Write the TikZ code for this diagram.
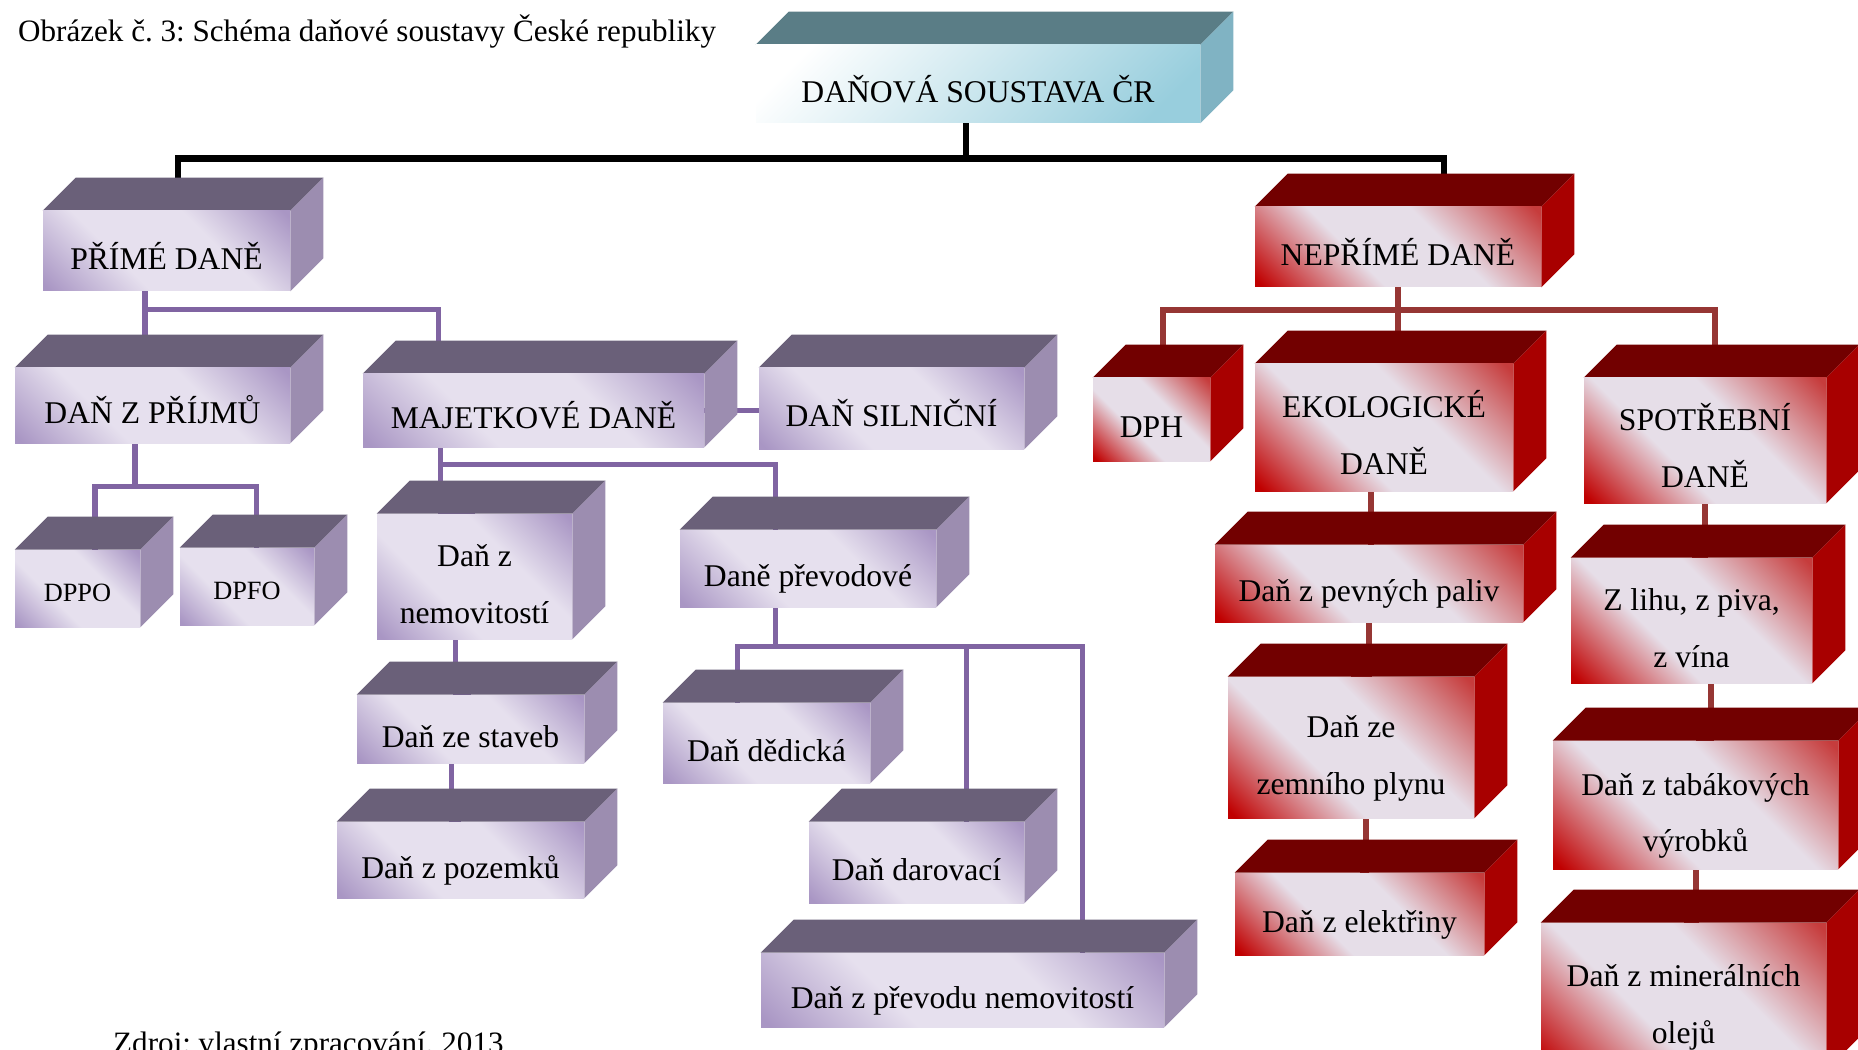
\documentclass[tikz,border=0pt]{standalone}
\usepackage{fontspec}
\setmainfont{Liberation Serif}
\usetikzlibrary{positioning,backgrounds}
\frenchspacing

\definecolor{ptop}{HTML}{6A6079}
\definecolor{pside}{HTML}{9C8DB0}
\definecolor{plight}{HTML}{E6E0EE}
\definecolor{pdark}{HTML}{A996C4}
\definecolor{linepurple}{HTML}{8064A2}
\definecolor{rtop}{HTML}{720000}
\definecolor{rside}{HTML}{A80000}
\definecolor{rlight}{HTML}{E6DEE8}
\definecolor{rdark}{HTML}{C00000}
\definecolor{rdarktop}{HTML}{C63C3C}
\definecolor{linered}{HTML}{963634}
\definecolor{ttop}{HTML}{5A7D86}
\definecolor{tside}{HTML}{80B3C3}
\definecolor{tblue}{HTML}{98CEDD}

\pgfdeclareverticalshading{purplefront}{100bp}{color(0bp)=(pdark); color(16bp)=(pdark); color(38bp)=(plight); color(62bp)=(plight); color(84bp)=(pdark); color(100bp)=(pdark)}
\pgfdeclareverticalshading{redfront}{100bp}{color(0bp)=(rdark); color(16bp)=(rdark); color(40bp)=(rlight); color(60bp)=(rlight); color(84bp)=(rdarktop); color(100bp)=(rdarktop)}
\pgfdeclareverticalshading{bluefront}{100bp}{color(0bp)=(tblue); color(22bp)=(tblue); color(78bp)=(white); color(100bp)=(white)}

\newcommand{\pix}{0.02cm}

\tikzset{
  box/.style={rectangle, inner sep=0pt, shade, shading angle=-45, align=center,
    font=\fontsize{18}{32}\selectfont, text height=21pt, text depth=0pt},
  pbox/.style={box, shading=purplefront},
  rbox/.style={box, shading=redfront},
  twolines/.style={text height=53pt},
  size/.style 2 args={minimum width=#1*\pix, minimum height=#2*\pix},
  plink/.style={draw=linepurple, line width=2.85pt},
  rlink/.style={draw=linered, line width=3.4pt},
  trunk/.style={draw=black, line width=3.7pt},
}

\begin{document}
\begin{tikzpicture}[x=\pix, y=-\pix]
\useasboundingbox (0,0) rectangle (1858,1050);

% popisky obrazku
\node[anchor=base west, font=\fontsize{17.7}{20}\selectfont] (caption) at (12,42) {Obrázek č. 3: Schéma daňové soustavy České republiky};
\node[anchor=base west, font=\fontsize{17.7}{20}\selectfont] (source) at (107,1053) {Zdroj: vlastní zpracování, 2013};

% koren
\node[box, shading=bluefront, shading angle=45, size={444}{78}] (title) at (978,84) {DAŇOVÁ SOUSTAVA ČR};

% prime dane
\node[pbox, size={247}{80}] (prime) at (166.5,251) {PŘÍMÉ DANĚ};
\node[pbox, size={275}{75}] (prijmy) at (152.5,405.5) {DAŇ Z PŘÍJMŮ};
\node[pbox, size={341}{73}] (majet) at (533.5,410.5) {MAJETKOVÉ DANĚ};
\node[pbox, size={265}{81}] (silnic) at (891.5,408.5) {DAŇ SILNIČNÍ};
\node[pbox, size={125}{77}, font=\fontsize{15}{20}\selectfont, text height=15pt] (dppo) at (77.5,588.5) {DPPO};
\node[pbox, size={134}{77}, font=\fontsize{15}{20}\selectfont, text height=15pt] (dpfo) at (247,586.5) {DPFO};
\node[pbox, twolines, size={195}{125}] (nemov) at (474.5,576.5) {Daň z\\nemovitostí};
\node[pbox, size={256}{77}] (prevod) at (808,568.5) {Daně převodové};
\node[pbox, size={227}{68}] (staveb) at (470.5,729) {Daň ze staveb};
\node[pbox, size={247}{76}] (pozem) at (460.5,860) {Daň z pozemků};
\node[pbox, size={207}{80}] (dedic) at (766.5,743) {Daň dědická};
\node[pbox, size={215}{81}] (darov) at (916.5,862.5) {Daň darovací};
\node[pbox, size={403}{74}] (prevnem) at (962.5,990) {Daň z převodu nemovitostí};

% neprime dane
\node[rbox, size={286}{80}] (neprime) at (1398,247) {NEPŘÍMÉ DANĚ};
\node[rbox, size={117}{83}] (dph) at (1151.5,419.5) {DPH};
\node[rbox, twolines, size={258}{127}] (ekolog) at (1384,427.5) {EKOLOGICKÉ\\DANĚ};
\node[rbox, twolines, size={242}{125}] (spotreb) at (1705,440.5) {SPOTŘEBNÍ\\DANĚ};
\node[rbox, size={308}{77}] (paliv) at (1369,583.5) {Daň z pevných paliv};
\node[rbox, twolines, size={246}{141}] (plyn) at (1351,747.5) {Daň ze\\zemního plynu};
\node[rbox, size={249}{82}] (elektr) at (1359.5,914) {Daň z elektřiny};
\node[rbox, twolines, size={241}{125}] (lihu) at (1691.5,620.5) {Z lihu, z piva,\\z vína};
\node[rbox, twolines, size={285}{128}] (tabak) at (1695.5,805) {Daň z tabákových\\výrobků};
\node[rbox, twolines, size={285}{147}] (mineral) at (1683.5,996.5) {Daň z minerálních\\olejů};

\begin{pgfonlayer}{background}
% spojnice
\draw[trunk] ([xshift=-12*\pix]title.south) -- ++(0,35) coordinate (busT);
\draw[trunk] ([xshift=11.5*\pix]prime.north) |- (busT) -| ([xshift=46*\pix]neprime.north);

\draw[plink] ([xshift=-21.5*\pix]prime.south) -- ++(0,18) -| ([xshift=-95.5*\pix]majet.north);
\draw[plink] ([xshift=-21.5*\pix]prime.south) |- (prijmy.north);
\draw[plink] ([xshift=-17.5*\pix]prijmy.south) -- ++(0,43) coordinate (busD);
\draw[plink] ([xshift=17.5*\pix]dppo.north) |- (busD) -| ([xshift=9*\pix]dpfo.north);
\draw[plink] ([xshift=-93.5*\pix]majet.south) |- (nemov.north);
\draw[plink] ([xshift=-93.5*\pix]majet.south) -- ++(0,17) -| ([xshift=-33*\pix]prevod.north);
\draw[plink] (majet.east) -- (majet.east -| silnic.west);
\draw[plink] ([xshift=-19.5*\pix]nemov.south) |- (staveb.north);
\draw[plink] ([xshift=-19.5*\pix]staveb.south) |- (pozem.north);
\draw[plink] ([xshift=-33*\pix]prevod.south) -- ++(0,39) coordinate (busP);
\draw[plink] ([xshift=-29.5*\pix]dedic.north) |- (busP) -| ([xshift=119.5*\pix]prevnem.north);
\draw[plink] (busP) -| ([xshift=49.5*\pix]darov.north);

\draw[rlink] (neprime.south) -- ++(0,23) coordinate (busR);
\draw[rlink] ([xshift=11.5*\pix]dph.north) |- (busR) -| ([xshift=10*\pix]spotreb.north);
\draw[rlink] (busR) -- ([xshift=14*\pix]ekolog.north);
\draw[rlink] ([xshift=-13*\pix]ekolog.south) |- (paliv.north);
\draw[rlink] (paliv.south) |- (plyn.north);
\draw[rlink] ([xshift=15*\pix]plyn.south) |- (elektr.north);
\draw[rlink] (spotreb.south) |- (lihu.north);
\draw[rlink] ([xshift=19.5*\pix]lihu.south) |- (tabak.north);
\draw[rlink] (tabak.south) |- (mineral.north);

% horni a bocni steny kvadru
\fill[ttop] (title.north west) -- ++(33,-33) -- ([shift={(33,-33)}]title.north east) -- (title.north east) -- cycle;
\fill[tside] (title.north east) -- ++(33,-33) -- ([shift={(33,-33)}]title.south east) -- (title.south east) -- cycle;
\foreach \b in {prime,prijmy,majet,silnic,dppo,dpfo,nemov,prevod,staveb,pozem,dedic,darov,prevnem}{
  \fill[ptop] (\b.north west) -- ++(33,-33) -- ([shift={(33,-33)}]\b.north east) -- (\b.north east) -- cycle;
  \fill[pside] (\b.north east) -- ++(33,-33) -- ([shift={(33,-33)}]\b.south east) -- (\b.south east) -- cycle;
}
\foreach \b in {neprime,dph,ekolog,spotreb,paliv,plyn,elektr,lihu,tabak,mineral}{
  \fill[rtop] (\b.north west) -- ++(33,-33) -- ([shift={(33,-33)}]\b.north east) -- (\b.north east) -- cycle;
  \fill[rside] (\b.north east) -- ++(33,-33) -- ([shift={(33,-33)}]\b.south east) -- (\b.south east) -- cycle;
}
\end{pgfonlayer}

\end{tikzpicture}
\end{document}
